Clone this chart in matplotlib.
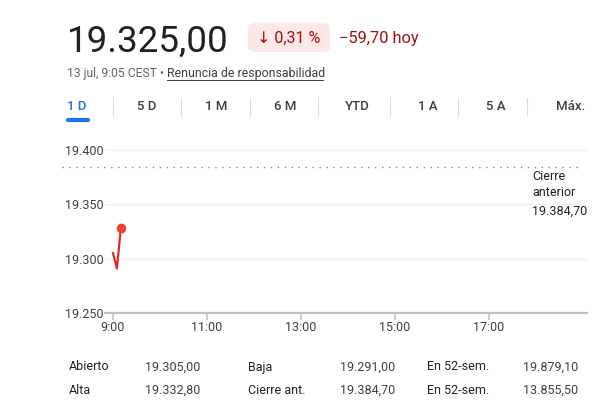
import matplotlib
matplotlib.use("Agg")
import matplotlib.pyplot as plt
from matplotlib.patches import FancyBboxPatch

plt.rcParams['font.family'] = ['Roboto', 'DejaVu Sans']

# datos
precio = "19.325,00"
cambio_pct = "↓ 0,31 %"
cambio_abs = "−59,70 hoy"
fecha = "13 jul, 9:05 CEST •"
aviso = "Renuncia de responsabilidad"
pestanas = ["1 D", "5 D", "1 M", "6 M", "YTD", "1 A", "5 A", "Máx."]

minutos = [0, 5, 10]                 # minutos desde las 9:00
valores = [19305.0, 19291.0, 19328.0]
cierre_anterior = 19384.70

yticks = [19250, 19300, 19350, 19400]
ytick_labels = ["19.250", "19.300", "19.350", "19.400"]
xticks = [9, 11, 13, 15, 17]
xtick_labels = ["9:00", "11:00", "13:00", "15:00", "17:00"]

stats_col1 = ["Abierto", "Alta"]
stats_val1 = ["19.305,00", "19.332,80"]
stats_col2 = ["Baja", "Cierre ant."]
stats_val2 = ["19.291,00", "19.384,70"]
stats_col3 = ["En 52-sem.", "En 52-sem."]
stats_val3 = ["19.879,10", "13.855,50"]

W, H = 599, 418
fig = plt.figure(figsize=(W / 100, H / 100), dpi=100)


def fx(px):
    return px / W


def fy(py):
    return 1 - py / H


# cabecera
fig.text(fx(67), fy(52), precio, fontsize=26.5, color="#202124", va="baseline")
badge = FancyBboxPatch((fx(248), fy(52)), fx(82), 29 / H,
                       boxstyle="round,pad=0,rounding_size=0.012",
                       transform=fig.transFigure, fc="#fce8e6", ec="none")
fig.patches.append(badge)
fig.text(fx(289), fy(38), cambio_pct, fontsize=11.5, color="#a50e0e",
         ha="center", va="center")
fig.text(fx(339), fy(38), cambio_abs, fontsize=11.8, color="#a50e0e", va="center")
fig.text(fx(67), fy(74), fecha, fontsize=8.7, color="#5f6368", va="center")
fig.text(fx(167), fy(74), aviso, fontsize=8.9, color="#3c4043", va="center")
fig.add_artist(plt.Line2D([fx(167), fx(323)], [fy(80), fy(80)], color="#3c4043",
                          lw=0.7, transform=fig.transFigure))

# pestañas
tab_x = [77, 147, 216, 285, 357, 428, 496, 571]
for i, (lab, x) in enumerate(zip(pestanas, tab_x)):
    fig.text(fx(x), fy(107), lab, fontsize=9.5, ha="center", va="center",
             color="#1a73e8" if i == 0 else "#3c4043", fontweight="medium")
for x in [113, 181, 250, 318, 390, 458, 527]:
    fig.add_artist(plt.Line2D([fx(x), fx(x)], [fy(98), fy(116)], color="#dadce0",
                              lw=0.8, transform=fig.transFigure))
fig.add_artist(plt.Line2D([fx(68), fx(88)], [fy(120), fy(120)], color="#1a73e8",
                          lw=3, solid_capstyle="round", transform=fig.transFigure))

# gráfico
ax = fig.add_axes([fx(105), fy(313), fx(482), (313 - 139) / H])
horas = [9 + m / 60 for m in minutos]
ax.plot(horas, valores, color="#d93025", lw=1.6)
ax.plot(horas[-1], valores[-1], "o", color="#ea4335", ms=6)
ax.axhline(cierre_anterior, xmin=-0.09, xmax=0.99, color="#80868b", lw=1,
           ls=(0, (1, 4)), clip_on=False)
for y in yticks[1:]:
    ax.axhline(y, color="#eeeeee", lw=0.8, zorder=0)
ax.set_xlim(9 - 8 / 47, 9 + 474 / 47)
ax.set_ylim(19250, 19410)
ax.set_yticks(yticks)
ax.set_yticklabels(ytick_labels)
ax.set_xticks(xticks)
ax.set_xticklabels(xtick_labels)
for s in ["top", "right", "left"]:
    ax.spines[s].set_visible(False)
ax.spines["bottom"].set_color("#bdc1c6")
ax.spines["bottom"].set_linewidth(1.6)
ax.tick_params(axis="y", length=0, pad=29, labelsize=9, labelcolor="#3c4043")
for lab in ax.get_yticklabels():
    lab.set_horizontalalignment("left")
ax.tick_params(axis="x", length=5, width=1.2, color="#bdc1c6", pad=1,
               labelsize=9, labelcolor="#3c4043")
ax.patch.set_alpha(0)

fig.text(fx(532), fy(176), "Cierre", fontsize=9, color="#202124", va="center")
fig.text(fx(532), fy(193), "anterior", fontsize=9, color="#202124", va="center")
fig.text(fx(532), fy(211), "19.384,70", fontsize=9, color="#202124", va="center")

# tabla
for r, yy in enumerate([367, 390]):
    fig.text(fx(69), fy(yy), stats_col1[r], fontsize=9, color="#202124", va="center")
    fig.text(fx(145), fy(yy), stats_val1[r], fontsize=9, color="#3c4043", va="center")
    fig.text(fx(248), fy(yy), stats_col2[r], fontsize=9, color="#202124", va="center")
    fig.text(fx(340), fy(yy), stats_val2[r], fontsize=9, color="#3c4043", va="center")
    fig.text(fx(427), fy(yy), stats_col3[r], fontsize=9, color="#202124", va="center")
    fig.text(fx(523), fy(yy), stats_val3[r], fontsize=9, color="#3c4043", va="center")

fig.savefig("out.png", dpi=100)
